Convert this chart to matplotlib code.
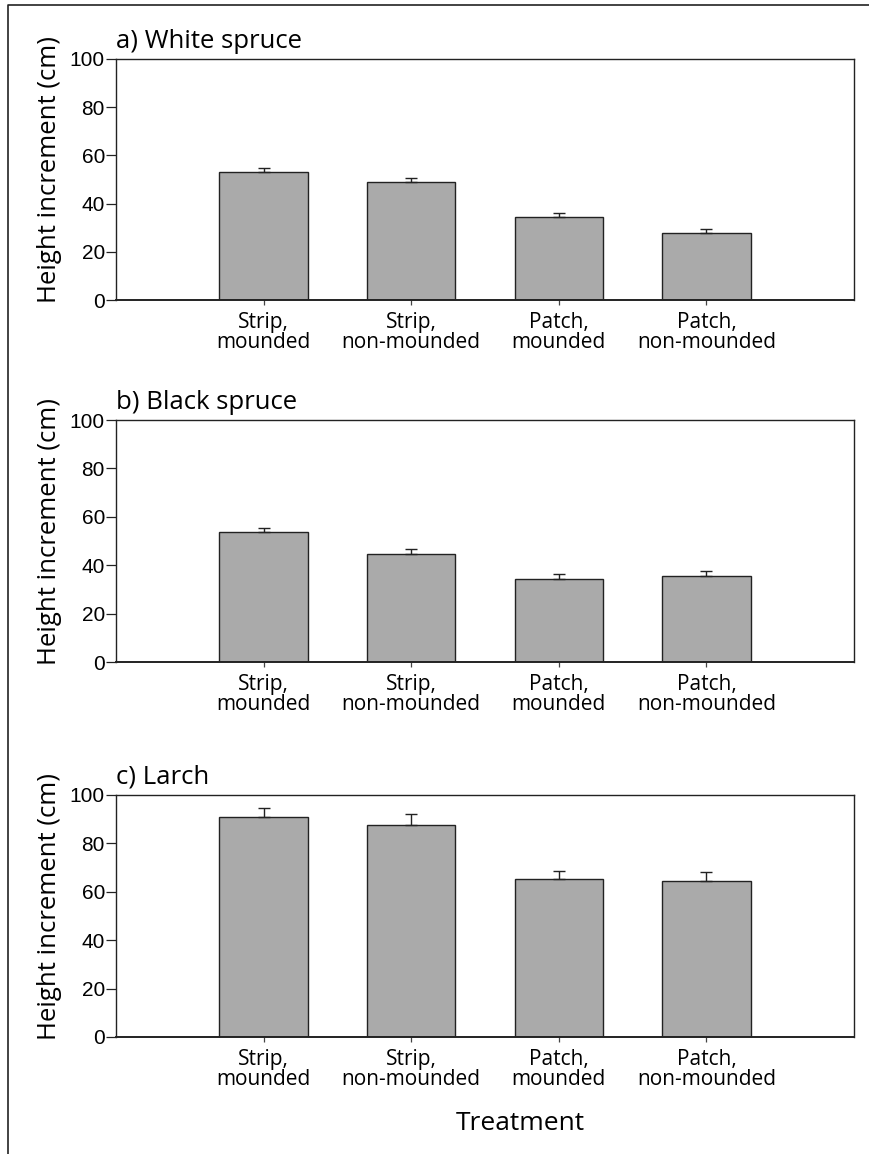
"""Height increment per treatment for three conifer species (bar + upper SE)."""
import numpy as np
import matplotlib
matplotlib.use("Agg")
import matplotlib.pyplot as plt
from matplotlib.lines import Line2D

TREATMENTS = ["Strip,\nmounded", "Strip,\nnon-mounded",
              "Patch,\nmounded", "Patch,\nnon-mounded"]
TITLES = ["a) White spruce", "b) Black spruce", "c) Larch"]

white_mean = [53.1, 48.8, 34.3, 27.7]
white_err = [1.5, 1.9, 1.9, 1.9]
black_mean = [53.6, 44.5, 34.5, 35.7]
black_err = [1.6, 2.2, 1.9, 2.1]
larch_mean = [90.8, 87.5, 65.1, 64.5]
larch_err = [3.7, 4.5, 3.3, 3.6]

TXT = "Open Sans"
NUM = "Liberation Sans"

W, H = 870, 1154
fig = plt.figure(figsize=(W / 100, H / 100), dpi=100)

# axes boxes in pixels: (left, top, right, bottom)
boxes = [(116, 59, 854, 300), (116, 420, 854, 662), (116, 795, 854, 1037)]
series = [(white_mean, white_err), (black_mean, black_err),
          (larch_mean, larch_err)]

xs = np.arange(1, len(TREATMENTS) + 1)
for (l, t, r, b), (mean, err), title in zip(boxes, series, TITLES):
    ax = fig.add_axes([l / W, 1 - b / H, (r - l) / W, (b - t) / H])
    ax.bar(xs, mean, width=0.6, color="#aaaaaa", edgecolor="#222222",
           linewidth=1.0, zorder=2)
    ax.errorbar(xs, mean, yerr=[np.zeros(len(err)), err], fmt="none",
                ecolor="#222222", elinewidth=1.0, capsize=4, capthick=1.0,
                zorder=3)
    ax.set_xlim(0, 5)
    ax.set_ylim(0, 100)
    ax.set_yticks(np.arange(0, 101, 20))
    ax.set_xticks(xs)
    ax.set_xticklabels(TREATMENTS, family=TXT, fontsize=15, linespacing=0.95)
    for lab in ax.get_yticklabels():
        lab.set_family(NUM)
        lab.set_fontsize(15)
    ax.tick_params(axis="y", direction="out", length=7, width=0.9, pad=1,
                   color="#222222")
    ax.tick_params(axis="x", direction="out", length=3.6, width=0.9, pad=5,
                   color="#444444")
    for sp in ax.spines.values():
        sp.set_linewidth(1.0)
        sp.set_color("#222222")
    ax.spines["bottom"].set_linewidth(1.4)
    ax.set_ylabel("Height increment (cm)", family=TXT, fontsize=18.5)
    # rotated label: this x is its right-hand edge
    ax.yaxis.set_label_coords(-0.073, 0.54)
    ax.text(0.0, 1 + 11 / (b - t), title, transform=ax.transAxes,
            family=TXT, fontsize=18.5, ha="left", va="baseline")

fig.text(520 / W, 1 - 1123 / H, "Treatment", family=TXT, fontsize=19,
         ha="center", va="center")

# the page frame, left and top edges only
fig.add_artist(Line2D([8 / W, 8 / W, 1.0], [0.0, 1 - 5 / H, 1 - 5 / H],
                      transform=fig.transFigure, color="#222222", lw=1.2))

fig.savefig("out.png", dpi=100)
